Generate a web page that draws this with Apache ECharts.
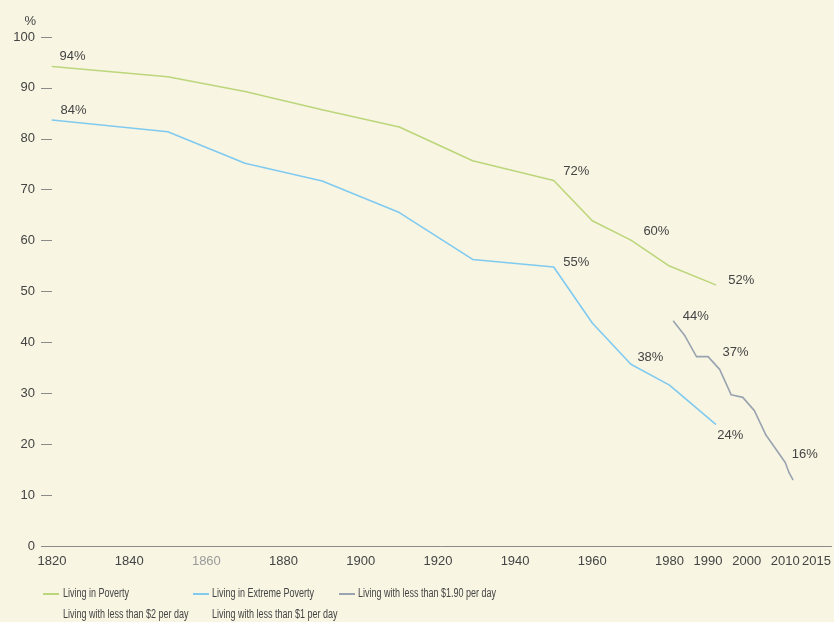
<!DOCTYPE html>
<html>
<head>
<meta charset="utf-8">
<title>Poverty 1820-2015</title>
<script src="https://cdn.jsdelivr.net/npm/echarts@6/dist/echarts.min.js"></script>
<style>
  html, body { margin: 0; padding: 0; background: #f8f5e3; }
  #chart { width: 834px; height: 622px; }
</style>
</head>
<body>
<div id="chart"></div>
<script>
// data
var povertyYears = [1820, 1850, 1870, 1890, 1910, 1929, 1950, 1960, 1970, 1980, 1992];
var povertyValues = [94.2, 92.2, 89.3, 85.7, 82.3, 75.7, 71.8, 63.9, 60.1, 55.0, 51.3];
var extremeValues = [83.7, 81.4, 75.2, 71.7, 65.5, 56.3, 54.8, 43.8, 35.7, 31.6, 23.9];
var wbYears = [1981, 1984, 1987, 1990, 1993, 1996, 1999, 2002, 2005, 2010, 2011, 2012];
var wbValues = [44.2, 41.3, 37.2, 37.2, 34.7, 29.7, 29.2, 26.6, 21.8, 16.4, 14.4, 13.0];

// point labels: index in the series -> text
var povertyLabels = { 0: '94%', 6: '72%', 8: '60%', 10: '52%' };
var extremeLabels = { 0: '84%', 6: '55%', 8: '38%', 10: '24%' };
var wbLabels = { 0: '44%', 3: '37%', 9: '16%' };

var xTickYears = [1820, 1840, 1860, 1880, 1900, 1920, 1940, 1960, 1980, 1990, 2000, 2010, 2015];
var yTicks = [0, 10, 20, 30, 40, 50, 60, 70, 80, 90, 100];

var seriesNames = ['Living in Poverty', 'Living in Extreme Poverty', 'Living with less than $1.90 per day'];
var seriesNotes = ['Living with less than $2 per day', 'Living with less than $1 per day'];

var textColor = '#444';
var fontMain = 'Helvetica, "Liberation Sans", Arial, sans-serif';

// label offsets (dx, dy from the point) so the texts sit like in the picture
var labelOffsets = [
  { 0: [7, -10], 6: [9, -9], 8: [12, -9], 10: [12, -4] },
  { 0: [8, -10], 6: [9, -5], 8: [6, -7], 10: [1, 11] },
  { 0: [9, -5], 3: [14, -4], 9: [6, -8] }
];

function buildData(years, values, labels, offsets) {
  return years.map(function (y, i) {
    var item = { value: [y, values[i]] };
    if (labels[i]) {
      item.label = {
        show: true,
        position: 'right',
        distance: 0,
        offset: offsets[i],
        formatter: labels[i],
        color: textColor,
        fontSize: 13,
        fontFamily: fontMain
      };
    }
    return item;
  });
}

// legend texts in the picture are a narrow face, squeeze a normal one
function legendText(t, x, y) {
  return {
    type: 'text',
    x: x,
    y: y,
    scaleX: 0.75,
    silent: true,
    style: { text: t, fill: textColor, fontSize: 12, fontFamily: fontMain, verticalAlign: 'middle' }
  };
}

var myChart = echarts.init(document.getElementById('chart'));

var lineBase = {
  type: 'line',
  symbol: 'circle',
  symbolSize: 1,
  showSymbol: true,
  silent: true,
  lineStyle: { width: 1.6 },
  label: { show: false }
};

var legendLeft = [43, 193, 339];

var option = {
  backgroundColor: '#f8f5e3',
  animation: false,
  color: ['#bcd67b', '#80caf0', '#9aa3b0'],
  textStyle: { fontFamily: fontMain },
  grid: { left: 52, right: 2, top: 37, bottom: 76 },
  legend: seriesNames.map(function (n, i) {
    return {
      data: [n],
      left: legendLeft[i],
      top: 593,
      padding: 0,
      icon: 'rect',
      itemWidth: 16,
      itemHeight: 2,
      selectedMode: false,
      formatter: function () { return ''; }
    };
  }),
  graphic: [
    legendText(seriesNames[0], 63, 594),
    legendText(seriesNames[1], 212, 594),
    legendText(seriesNames[2], 358, 594),
    legendText(seriesNotes[0], 63, 615),
    legendText(seriesNotes[1], 212, 615)
  ],
  xAxis: {
    type: 'value',
    min: 1820,
    max: 2022,
    splitLine: { show: false },
    axisTick: { show: false },
    axisLine: { show: true, lineStyle: { color: '#8a8a8a', width: 1 } },
    axisLabel: {
      customValues: xTickYears,
      margin: 9,
      color: textColor,
      fontSize: 13,
      formatter: function (v) {
        if (v === 1860) return '{light|' + v + '}';
        if (v === 2015) return '{last|' + v + '}';
        return String(v);
      },
      rich: {
        light: { color: '#9a9a9a', fontSize: 13 },
        last: { color: textColor, fontSize: 13, padding: [0, 0, 0, 24] }
      }
    }
  },
  yAxis: {
    type: 'value',
    min: 0,
    max: 100,
    interval: 10,
    name: '%',
    nameLocation: 'end',
    nameGap: 16,
    nameTextStyle: { color: textColor, fontSize: 13, align: 'right', verticalAlign: 'middle', padding: [0, 16, 0, 0] },
    splitLine: { show: false },
    axisLine: { show: false },
    axisTick: { show: true, length: 11, lineStyle: { color: '#8a8a8a', width: 1 } },
    axisLabel: {
      customValues: yTicks,
      margin: 17,
      color: textColor,
      fontSize: 13
    }
  },
  series: [
    Object.assign({}, lineBase, {
      name: seriesNames[0],
      data: buildData(povertyYears, povertyValues, povertyLabels, labelOffsets[0])
    }),
    Object.assign({}, lineBase, {
      name: seriesNames[1],
      data: buildData(povertyYears, extremeValues, extremeLabels, labelOffsets[1])
    }),
    Object.assign({}, lineBase, {
      name: seriesNames[2],
      data: buildData(wbYears, wbValues, wbLabels, labelOffsets[2])
    })
  ]
};
myChart.setOption(option);
</script>
</body>
</html>
